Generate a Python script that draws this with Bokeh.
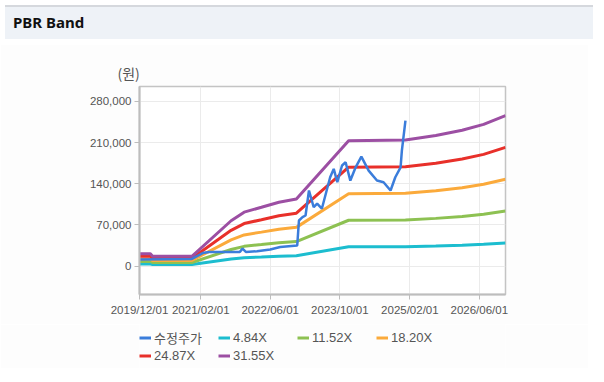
import pandas as pd
from bokeh.plotting import figure
from bokeh.models import (Range1d, FixedTicker, DatetimeTickFormatter, NumeralTickFormatter,
                          Legend, LegendItem, Title, Div)
from bokeh.layouts import column
from bokeh.embed import file_html
from bokeh.resources import INLINE

# ---------------- data ----------------
band_dates = ["2019-12-01", "2020-02-15", "2020-03-01", "2020-12-01", "2021-09-01", "2021-12-01",
              "2022-04-01", "2022-08-01", "2022-12-01", "2023-12-01", "2025-01-01", "2025-08-01",
              "2026-02-01", "2026-07-01", "2026-12-01"]
band_484 = [3220, 3220, 2530, 2530, 11810, 14050, 15340, 16660, 17490, 32720, 32910, 34060, 35440, 36970, 39270]
band_1152 = [7670, 7670, 6030, 6030, 28120, 33450, 36510, 39650, 41630, 77880, 78320, 81060, 84350, 88000, 93470]
band_1820 = [12110, 12110, 9520, 9520, 44420, 52840, 57690, 62650, 65760, 123040, 123740, 128060, 133260, 139020, 147680]
band_2487 = [16550, 16550, 13010, 13010, 60700, 72210, 78830, 85610, 89860, 168140, 169080, 175000, 182090, 189970, 201800]
band_3155 = [21000, 21000, 16500, 16500, 77000, 91600, 100000, 108600, 114000, 213300, 214500, 222000, 231000, 241000, 256000]

price_dates = ["2019-12-01", "2020-06-01", "2020-12-01", "2021-02-15", "2021-04-01", "2021-11-01",
               "2021-11-20", "2021-12-13", "2022-03-01", "2022-06-01", "2022-08-10", "2022-12-07",
               "2022-12-19", "2023-01-13", "2023-02-03", "2023-02-27", "2023-04-01", "2023-04-25",
               "2023-05-28", "2023-07-25", "2023-08-19", "2023-09-13", "2023-10-16", "2023-11-10",
               "2023-12-13", "2024-01-19", "2024-02-28", "2024-04-19", "2024-06-16", "2024-08-01",
               "2024-09-19", "2024-10-22", "2024-11-28", "2024-12-07", "2025-01-01"]
price = [11000, 11500, 12000, 22000, 24000, 24000,
         29500, 24000, 25000, 28000, 32200, 35000,
         77500, 83200, 86000, 128500, 100000, 106000,
         97500, 151000, 165300, 142600, 171000, 176500,
         145400, 168000, 186200, 162400, 145400, 142600,
         128500, 151000, 168000, 196300, 247300]

x_ticks = ["2019-12-01", "2021-02-01", "2022-06-01", "2023-10-01", "2025-02-01", "2026-06-01"]
y_ticks = [0, 70000, 140000, 210000, 280000]

series_names = ["수정주가", "4.84X", "11.52X", "18.20X", "24.87X", "31.55X"]
colors = ["#3b7ddb", "#1cbdcf", "#8dc152", "#fbaa3b", "#e8302a", "#9c4fa3"]

# ---------------- figure ----------------
bd = pd.to_datetime(band_dates)
pdts = pd.to_datetime(price_dates)

FONT = "Liberation Sans, Noto Sans CJK KR"
BG = "#fdfdfd"

p = figure(width=588, height=280, x_axis_type="datetime", output_backend="svg",
           toolbar_location=None,
           x_range=Range1d(pd.Timestamp("2019-12-01"), pd.Timestamp("2026-12-01")),
           y_range=Range1d(-48500, 305500),
           min_border_left=139, min_border_right=83, min_border_top=42, min_border_bottom=30)
p.background_fill_color = "#ffffff"
p.border_fill_color = BG
p.outline_line_color = "#c4c4c4"
p.outline_line_width = 1.5

p.xaxis.ticker = FixedTicker(ticks=[pd.Timestamp(t).value // 10**6 for t in x_ticks])
fmt = "%Y/%m/%d"
p.xaxis.formatter = DatetimeTickFormatter(milliseconds=fmt, seconds=fmt, minsec=fmt, minutes=fmt,
                                          hourmin=fmt, hours=fmt, days=fmt, months=fmt, years=fmt)
p.yaxis.ticker = FixedTicker(ticks=y_ticks)
p.yaxis.formatter = NumeralTickFormatter(format="0,0")

for ax in (p.xaxis[0], p.yaxis[0]):
    ax.axis_line_color = "#bdbdbd"
    ax.axis_line_width = 2
    ax.major_tick_line_color = "#bdbdbd"
    ax.major_tick_out = 5
    ax.major_tick_in = 0
    ax.minor_tick_line_color = None
    ax.major_label_text_font = FONT
    ax.major_label_text_font_size = "11.5px"
    ax.major_label_text_color = "#555555"
p.xaxis.major_label_standoff = 4
p.yaxis.major_label_standoff = 3

p.xgrid.ticker = p.xaxis[0].ticker
p.xgrid.grid_line_color = "#ebebeb"
p.ygrid.grid_line_color = "#ebebeb"

bands = [band_484, band_1152, band_1820, band_2487, band_3155]
for name, vals, col in zip(series_names[1:], bands, colors[1:]):
    p.line(bd, vals, line_color=col, line_width=3)
p.line(pdts, price, line_color=colors[0], line_width=2.5)

unit = Title(text="(원)", align="left", offset=-22, standoff=8, text_font="Noto Sans CJK KR",
             text_font_size="14px", text_font_style="normal", text_color="#555555")
p.add_layout(unit, "above")

# ---------------- legend strip ----------------
lg = figure(width=588, height=44, output_backend="svg", toolbar_location=None,
            x_axis_location=None, y_axis_location=None,
            x_range=Range1d(0, 1), y_range=Range1d(0, 1),
            min_border_left=139, min_border_right=83, min_border_top=0, min_border_bottom=0)
lg.grid.visible = False
lg.outline_line_color = None
lg.background_fill_color = BG
lg.border_fill_color = BG
items = []
for name, col in zip(series_names, colors):
    # legend-only swatch renderer, kept outside the visible range
    r = lg.line(x=[5, 6], y=[5, 6], line_color=col, line_width=3)
    items.append(LegendItem(label=name, renderers=[r]))
legend = Legend(items=items, ncols=4, location=(0, 4), orientation="horizontal",
                background_fill_alpha=0, border_line_color=None, padding=0, margin=0,
                spacing=0, glyph_width=12, glyph_height=17, label_height=17, label_width=64,
                label_standoff=3, label_text_font=FONT, label_text_font_size="13px",
                label_text_color="#555555")
lg.add_layout(legend, "center")

header = Div(text="PBR Band", width=588, height=34,
             styles={"background-color": "#eef2f7", "border-top": "2px solid #d5d8dd",
                     "font-weight": "bold", "font-size": "15px", "font-family": "Noto Sans",
                     "color": "#111111", "padding-left": "8px", "line-height": "30px",
                     "box-sizing": "border-box"})

layout = column(header, p, lg, spacing=0)
open("out.html", "w").write(file_html(layout, INLINE))
